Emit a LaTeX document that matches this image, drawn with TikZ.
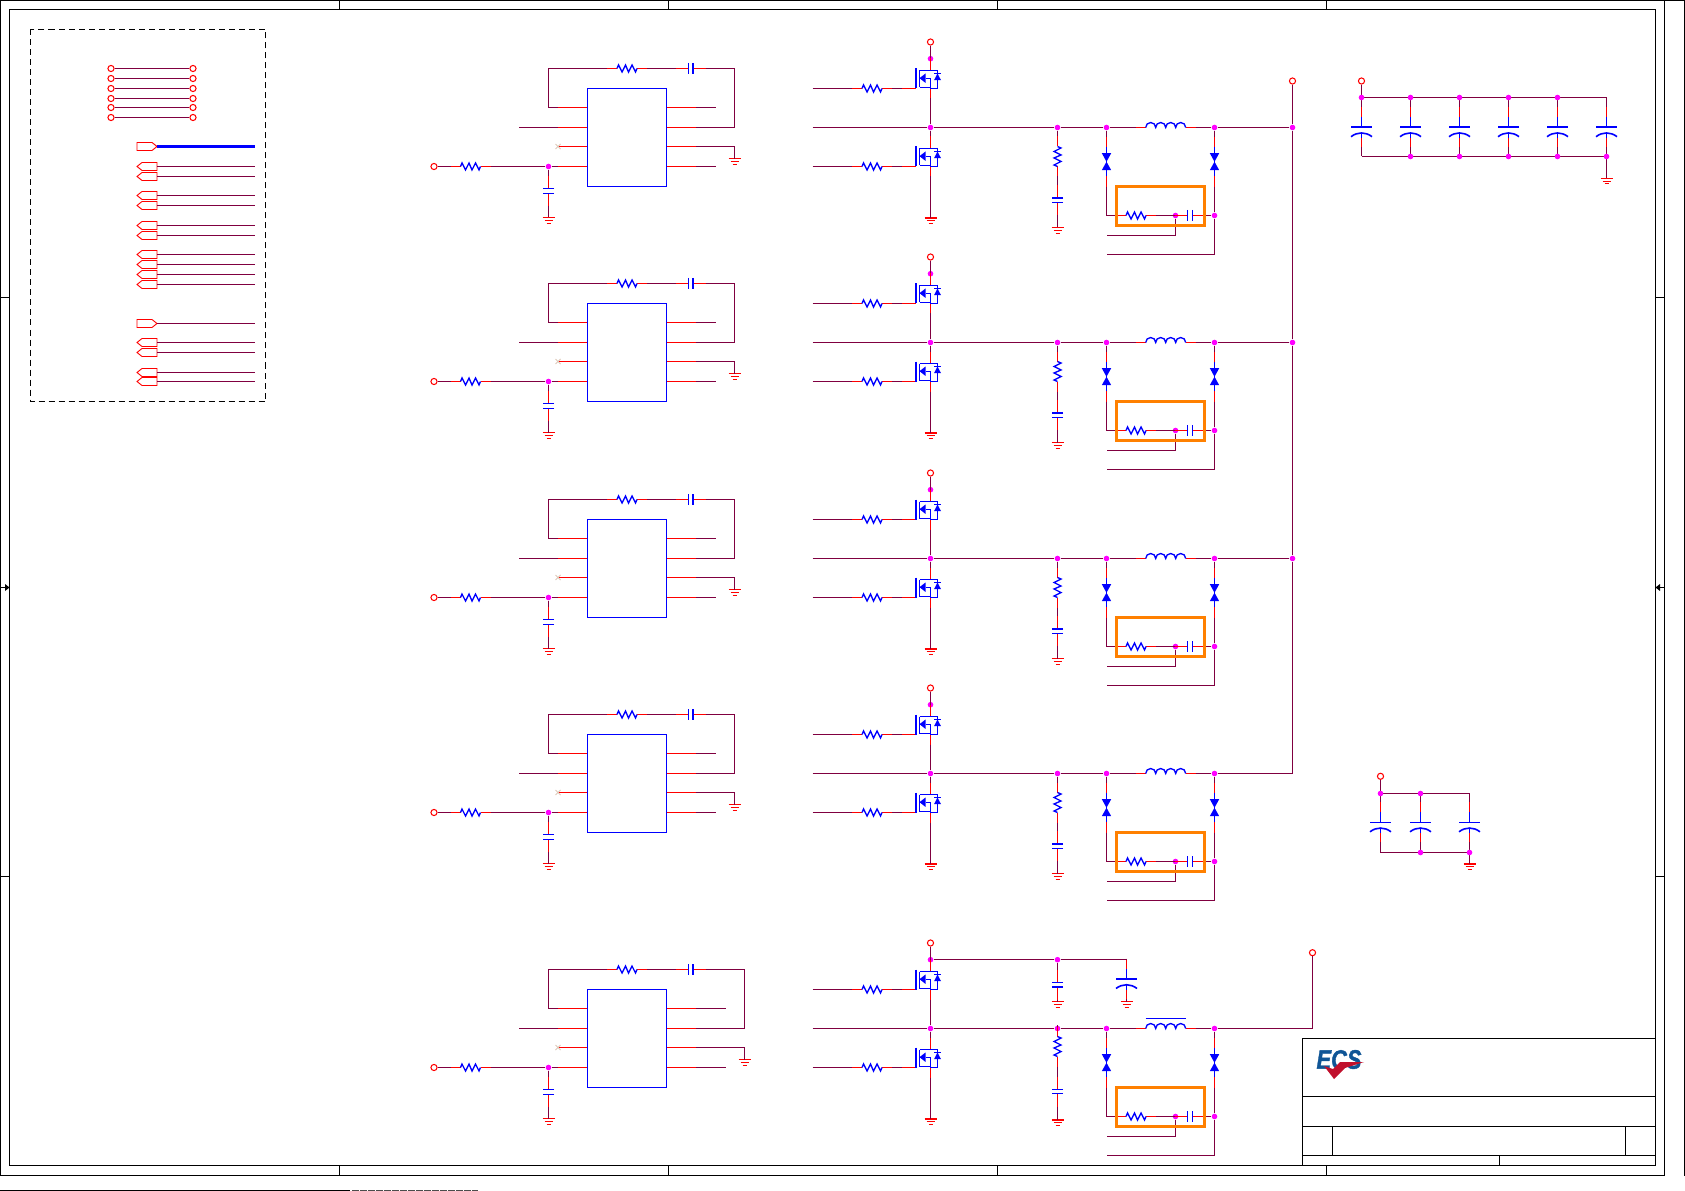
\documentclass[tikz,border=0pt]{standalone}
\usepackage{fontspec}
\setmainfont{Liberation Sans}[BoldItalicFeatures={FakeBold=1.5}]
\usetikzlibrary{positioning}

\definecolor{netcol}{HTML}{800040}
\definecolor{pincol}{HTML}{FF0000}
\definecolor{partcol}{HTML}{0000FF}
\definecolor{juncol}{HTML}{FF00FF}
\definecolor{orangebox}{HTML}{FF8000}
\definecolor{logoblue}{HTML}{0F5596}
\definecolor{logored}{HTML}{C0102C}
\definecolor{nccol}{HTML}{DDC8B8}

\tikzset{
    frameline/.style={draw=black, line width=1pt},
    netline/.style={draw=netcol, line width=0.8pt},
    pinline/.style={draw=pincol, line width=0.8pt},
    partline/.style={draw=partcol, line width=1pt},
    term/.style={circle, draw=pincol, fill=white, line width=0.8pt, minimum size=4.6pt, inner sep=0pt},
    junc/.style={circle, fill=juncol, minimum size=4.2pt, inner sep=0pt},
    chip/.style={rectangle, draw=partcol, line width=1pt, minimum width=59.2pt, minimum height=73.5pt, inner sep=0pt},
    res/.pic={
        \coordinate (-a) at (-20,0);
        \coordinate (-b) at (20,0);
        \draw[pinline] (-a) -- (-10,0) (10,0) -- (-b);
        \draw[partline] (-10,0) -- (-8.5,-3.5) -- (-5,3.5) -- (-1.5,-3.5) -- (1.5,3.5) -- (5,-3.5) -- (8.5,3.5) -- (10,0);
    },
    capa/.pic={
        \coordinate (-a) at (-15,0);
        \coordinate (-b) at (15,0);
        \draw[pinline] (-a) -- (-2.2,0) (2.2,0) -- (-b);
        \draw[partline] (-2.2,-5.5) -- (-2.2,5.5) (2.2,-5.5) -- (2.2,5.5);
    },
    ecap/.pic={
        \coordinate (-a) at (0,-24);
        \coordinate (-b) at (0,16.5);
        \draw[pinline] (-a) -- (0,-13.5) (0,7) -- (-b);
        \draw[partline, line width=1.2pt] (0,-13.5) -- (0,-3.5) (-10.5,-3.5) -- (10.5,-3.5);
        \draw[partline, line width=1.2pt] (-10.5,6) .. controls (-4,1) and (4,1) .. (10.5,6);
        \draw[partline, line width=1.2pt] (0,2) -- (0,7);
    },
    choke/.pic={
        \coordinate (-a) at (-30,0);
        \coordinate (-b) at (30,0);
        \draw[pinline] (-a) -- (-20,0) (20,0) -- (-b);
        \draw[partline] (-20,0) arc (180:360:5 and 5) arc (180:360:5 and 5) arc (180:360:5 and 5) arc (180:360:5 and 5);
    },
    tvs/.pic={
        \coordinate (-a) at (0,-25);
        \coordinate (-b) at (0,25);
        \draw[pinline] (-a) -- (0,-14.5) (0,14.5) -- (-b);
        \draw[partline] (0,-14.5) -- (0,14.5);
        \fill[partcol] (-4.7,-8.5) -- (4.7,-8.5) -- (0,0) -- cycle;
        \fill[partcol] (-4.7,8.5) -- (4.7,8.5) -- (0,0) -- cycle;
    },
    gnd/.pic={
        \coordinate (-a) at (0,0);
        \draw[draw=pincol, line width=0.8pt] (-6,0) -- (6,0) (-4,2.8) -- (4,2.8) (-2,5.6) -- (2,5.6);
    },
    fet/.pic={
        \coordinate (-g) at (-29,0);
        \coordinate (-d) at (0,-30);
        \coordinate (-s) at (0,10);
        \draw[pinline] (-g) -- (-14.6,0) (-d) -- (0,-18) (0,0) -- (-s);
        \draw[partline] (-14.6,-20) -- (-14.6,0) (-11,-18) -- (-11,-1);
        \draw[partline] (-11,-18) -- (7,-18) -- (7,0) -- (0,0) -- (0,-1);
        \draw[partline] (-11,-1) -- (0,-1) -- (0,-10.3) -- (-5,-10.3);
        \fill[partcol] (-11,-10.3) -- (-5,-15) -- (-5,-5.6) -- cycle;
        \fill[partcol] (7,-15) -- (3.5,-8.3) -- (10.5,-8.3) -- cycle;
        \draw[partline] (3.5,-15) -- (10.5,-15);
    },
    portl/.pic={
        \coordinate (-a) at (0,0);
        \draw[draw=pincol, line width=0.7pt] (0,-4) -- (-15,-4) -- (-20,0) -- (-15,4) -- (0,4) -- cycle;
    },
    portr/.pic={
        \coordinate (-a) at (0,0);
        \draw[draw=pincol, line width=0.7pt] (0,0) -- (-5,-4) -- (-20,-4) -- (-20,4) -- (-5,4) -- cycle;
    },
}

% controller block: name, y offset, x of feedback rail, x of open pin ends
\newcommand{\driver}[4]{
    \begin{scope}[shift={(0,#2)}]
    \node[chip] (#1u) at (626.8,137.3) {};
    \coordinate (#1p1) at (558,107.5);
    \coordinate (#1p2) at (558,127.5);
    \coordinate (#1p3) at (558,146.5);
    \coordinate (#1p4) at (558,166.5);
    \coordinate (#1q1) at (696,107.5);
    \coordinate (#1q2) at (696,127.5);
    \coordinate (#1q3) at (696,146.5);
    \coordinate (#1q4) at (696,166.5);
    \coordinate (#1fl) at (548.5,68.5);
    \coordinate (#1fr) at (#3,68.5);
    \coordinate (#1open) at (519,127.5);
    \coordinate (#1e1) at (#4,107.5);
    \coordinate (#1e4) at (#4,166.5);
    \pic (#1rf) at (627,68.5) {res};
    \pic (#1cf) at (690.7,68.5) {capa};
    \pic (#1g2) at (#3,158.7) {gnd};
    \pic (#1ri) at (470.5,166.5) {res};
    \pic[rotate=-90] (#1ci) at (548.5,191) {capa};
    \pic (#1g1) at (548.5,217.5) {gnd};
    \node[term] (#1in) at (434,166.5) {};
    \node[junc] (#1j) at (548.5,166.5) {};
    \draw[netline] (#1p1) -| (#1fl) -- (#1rf-a);
    \draw[netline] (#1rf-b) -- (#1cf-a);
    \draw[netline] (#1cf-b) -- (#1fr) |- (#1q2);
    \draw[netline] (#1open) -- (#1p2);
    \draw[netline] (#1q1) -- (#1e1);
    \draw[netline] (#1q4) -- (#1e4);
    \draw[netline] (#1q3) -| (#1g2-a);
    \draw[netline] (#1in) -- (#1ri-a);
    \draw[netline] (#1ri-b) -- (#1j);
    \draw[netline] (#1j) -- (#1p4);
    \draw[netline] (#1j) -- (#1ci-a);
    \draw[netline] (#1ci-b) -- (#1g1-a);
    \foreach \k in {1,2,3,4} {
        \draw[pinline] (#1p\k) -- (#1p\k -| #1u.west);
        \draw[pinline] (#1q\k) -- (#1q\k -| #1u.east);
    }
    \draw[nccol, line width=0.6pt] (555.5,144) -- (560.5,149) (555.5,149) -- (560.5,144);
    \end{scope}
}

% power stage: name, y offset
\newcommand{\fets}[2]{
    \begin{scope}[shift={(0,#2)}]
    \node[term] (#1vin) at (930.5,42) {};
    \node[junc] (#1jt) at (930.5,58.7) {};
    \node[junc] (#1jm) at (930.5,127.5) {};
    \coordinate (#1gh) at (812.5,88.5);
    \coordinate (#1gl) at (812.5,166.5);
    \coordinate (#1sw) at (812.5,127.5);
    \pic (#1qh) at (930.5,88.5) {fet};
    \pic (#1ql) at (930.5,166.5) {fet};
    \pic (#1rh) at (872,88.5) {res};
    \pic (#1rl) at (872,166.5) {res};
    \pic (#1g3) at (930.5,218) {gnd};
    \draw[netline] (#1vin) -- (#1jt);
    \draw[netline] (#1jt) -- (#1qh-d);
    \draw[netline] (#1qh-s) -- (#1jm);
    \draw[netline] (#1jm) -- (#1ql-d);
    \draw[netline] (#1ql-s) -- (#1g3-a);
    \draw[netline] (#1gh) -- (#1rh-a);
    \draw[netline] (#1rh-b) -- (#1qh-g);
    \draw[netline] (#1gl) -- (#1rl-a);
    \draw[netline] (#1rl-b) -- (#1ql-g);
    \draw[netline] (#1sw) -- (#1jm);
    \end{scope}
}

% output filter: name, y offset, y of snubber R, C, ground
\newcommand{\filter}[5]{
    \begin{scope}[shift={(0,#2)}]
    \node[junc] (#1js) at (1057.5,127.5) {};
    \node[junc] (#1jd) at (1106.5,127.5) {};
    \node[junc] (#1jo) at (1214.5,127.5) {};
    \node[junc] (#1jc) at (1175.5,215.5) {};
    \node[junc] (#1jr) at (1214.5,215.5) {};
    \coordinate (#1sl) at (1106.5,215.5);
    \coordinate (#1s1) at (1106.5,235.5);
    \coordinate (#1s2) at (1106.5,254.5);
    \coordinate (#1s3) at (1214.5,254.5);
    \coordinate (#1s4) at (1175.5,235.5);
    \pic (#1l) at (1165.7,127.5) {choke};
    \pic[rotate=-90] (#1rs) at (1057.5,#3) {res};
    \pic[rotate=-90] (#1cs) at (1057.5,#4) {capa};
    \pic (#1g4) at (1057.5,#5) {gnd};
    \pic (#1d1) at (1106.5,161.7) {tvs};
    \pic (#1d2) at (1214.5,161.7) {tvs};
    \pic (#1rn) at (1136,215.5) {res};
    \pic (#1cn) at (1190,215.5) {capa};
    \draw[netline] (#1jm) -- (#1js);
    \draw[netline] (#1js) -- (#1jd);
    \draw[netline] (#1jd) -- (#1l-a);
    \draw[netline] (#1l-b) -- (#1jo);
    \draw[netline] (#1js) -- (#1rs-a);
    \draw[netline] (#1rs-b) -- (#1cs-a);
    \draw[netline] (#1cs-b) -- (#1g4-a);
    \draw[netline] (#1jd) -- (#1d1-a);
    \draw[netline] (#1d1-b) -- (#1sl) -- (#1rn-a);
    \draw[netline] (#1rn-b) -- (#1jc);
    \draw[netline] (#1jc) -- (#1cn-a);
    \draw[netline] (#1cn-b) -- (#1jr);
    \draw[netline] (#1jo) -- (#1d2-a);
    \draw[netline] (#1d2-b) -- (#1jr);
    \draw[netline] (#1jr) -- (#1s3) -- (#1s2);
    \draw[netline] (#1jc) -- (#1s4) -- (#1s1);
    \node[draw=orangebox, line width=2.2pt, minimum width=65.5pt, minimum height=29.5pt, inner sep=0pt] (#1box) at (1160.5,205.8) {};
    \end{scope}
}

\begin{document}
\begin{tikzpicture}[x=0.75pt, y=-0.75pt]
    \useasboundingbox (0,0) rectangle (1685,1191);

    % sheet frame
    \draw[frameline] (0.5,1175.5) -- (0.5,0.5) -- (1684.5,0.5) -- (1684.5,1175.5);
    \draw[frameline] (0.5,1175.5) -- (1664.5,1175.5) -- (1664.5,0.5);
    \draw[frameline] (9.5,9.5) rectangle (1655.5,1165.5);
    \draw[black, line width=1pt] (0,1190.5) -- (350,1190.5);
    \draw[black!70, line width=1pt, dash pattern=on 5pt off 1pt] (352,1190.5) -- (478,1190.5);
    \foreach \x in {339.5,668.5,997.5,1326.5} {
        \draw[frameline] (\x,0.5) -- (\x,9.5);
        \draw[frameline] (\x,1165.5) -- (\x,1175.5);
    }
    \foreach \y in {297.5,876.5} {
        \draw[frameline] (0.5,\y) -- (9.5,\y);
        \draw[frameline] (1655.5,\y) -- (1664.5,\y);
    }
    \draw[frameline] (0.5,587.5) -- (9.5,587.5);
    \fill[black] (9.5,587.5) -- (5,584) -- (5,591) -- cycle;
    \draw[frameline] (1655.5,587.5) -- (1664.5,587.5);
    \fill[black] (1655.5,587.5) -- (1660,584) -- (1660,591) -- cycle;

    % title block
    \draw[frameline] (1302.5,1038.5) rectangle (1655.5,1165.5);
    \draw[frameline] (1302.5,1096.5) -- (1655.5,1096.5);
    \draw[frameline] (1302.5,1126.5) -- (1655.5,1126.5);
    \draw[frameline] (1302.5,1155.5) -- (1655.5,1155.5);
    \draw[frameline] (1332.5,1126.5) -- (1332.5,1155.5);
    \draw[frameline] (1625.5,1126.5) -- (1625.5,1155.5);
    \draw[frameline] (1499.5,1155.5) -- (1499.5,1165.5);
    \node[font=\bfseries\itshape, text=logoblue, inner sep=0pt, xscale=0.82, scale=2] (logo) at (1339,1059.5) {ECS};
    \fill[logored] (1324,1066) -- (1334,1079) -- (1345,1068) -- (1364,1062) -- (1340,1062) -- (1333,1069) -- cycle;

    % net list box
    \draw[black, line width=0.75pt, dash pattern=on 4.5pt off 3pt] (30.5,29.5) rectangle (265.5,401.5);
    \foreach \y [count=\i] in {68.5,78.5,88.5,98.5,107.5,117.5} {
        \node[term] (tpa\i) at (111,\y) {};
        \node[term] (tpb\i) at (193,\y) {};
        \draw[netline] (tpa\i) -- (tpb\i);
    }
    \pic (pwr) at (157,146.5) {portr};
    \coordinate (pwre) at (255,146.5);
    \draw[draw=partcol, line width=2.2pt] (pwr-a) -- (pwre);
    \pic (sen) at (157,323.5) {portr};
    \coordinate (sene) at (255,323.5);
    \draw[netline] (sen-a) -- (sene);
    \foreach \y [count=\i] in {166.5,176.5,195.5,205.5,225.5,235.5,254.5,264.5,274.5,284.5,342.5,352.5,372.5,381.5} {
        \pic (prt\i) at (157,\y) {portl};
        \coordinate (prte\i) at (255,\y);
        \draw[netline] (prt\i-a) -- (prte\i);
    }

    % phases
    \foreach \n/\off in {a/0,b/215,c/431,d/646} {
        \driver{\n}{\off}{734.5}{715.5}
        \fets{\n}{\off}
        \filter{\n}{\off}{156.5}{200.3}{227.5}
    }
    \driver{e}{901}{744.5}{725.5}
    \fets{e}{901}
    \filter{e}{901}{145.5}{190.5}{219}

    % output rail
    \node[term] (vout) at (1292.5,81) {};
    \node[junc] (ja) at (1292.5,127.5) {};
    \node[junc] (jb) at (1292.5,342.5) {};
    \node[junc] (jc) at (1292.5,558.5) {};
    \coordinate (jd) at (1292.5,773.5);
    \draw[netline] (vout) -- (ja);
    \draw[netline] (ja) -- (jb);
    \draw[netline] (jb) -- (jc);
    \draw[netline] (jc) -- (jd);
    \draw[netline] (ajo) -- (ja);
    \draw[netline] (bjo) -- (jb);
    \draw[netline] (cjo) -- (jc);
    \draw[netline] (djo) -- (jd);

    % last phase extras
    \node[term] (vfb) at (1312.5,952.7) {};
    \coordinate (vfbc) at (1312.5,1028.5);
    \draw[netline] (ejo) -- (vfbc) -- (vfb);
    \draw[draw=partcol, line width=1pt] (1145.5,1018.5) -- (1185.7,1018.5);
    \node[junc] (ejk) at (1057.5,959.7) {};
    \coordinate (ejl) at (1126.5,959.7);
    \pic[rotate=-90] (ecd) at (1057.5,984.8) {capa};
    \pic (egd) at (1057.5,1001.7) {gnd};
    \pic (ece) at (1126.5,982.5) {ecap};
    \pic (ege) at (1126.5,1001.7) {gnd};
    \draw[netline] (ejt) -- (ejk);
    \draw[netline] (ejk) -- (ejl) -- (ece-a);
    \draw[netline] (ejk) -- (ecd-a);
    \draw[netline] (ecd-b) -- (egd-a);
    \draw[netline] (ece-b) -- (ege-a);

    % bulk capacitors, top right
    \node[term] (bvt) at (1361.5,81) {};
    \foreach \i/\x in {1/1361.5,2/1410.5,3/1459.5,4/1508.5,5/1557.5,6/1606.5} {
        \pic (bc\i) at (\x,130.7) {ecap};
        \coordinate (bt\i) at (\x,97.5);
        \coordinate (bb\i) at (\x,156.5);
        \draw[netline] (bt\i) -- (bc\i-a);
        \draw[netline] (bc\i-b) -- (bb\i);
    }
    \draw[netline] (bvt) -- (bt1);
    \draw[netline] (bt1) -- (bt6);
    \draw[netline] (bb1) -- (bb6);
    \pic (bg) at (1606.5,178.3) {gnd};
    \draw[netline] (bb6) -- (bg-a);
    \foreach \i in {1,2,3,4,5} {\node[junc] at (bt\i) {};}
    \foreach \i in {2,3,4,5,6} {\node[junc] at (bb\i) {};}

    % bulk capacitors, lower right
    \node[term] (cvt) at (1380.5,776.3) {};
    \foreach \i/\x in {1/1380.5,2/1420.5,3/1469.5} {
        \pic (cc\i) at (\x,825.8) {ecap};
        \coordinate (ct\i) at (\x,793.5);
        \coordinate (cb\i) at (\x,852.5);
        \draw[netline] (ct\i) -- (cc\i-a);
        \draw[netline] (cc\i-b) -- (cb\i);
    }
    \draw[netline] (cvt) -- (ct1);
    \draw[netline] (ct1) -- (ct3);
    \draw[netline] (cb1) -- (cb3);
    \pic (cg) at (1469.5,864) {gnd};
    \draw[netline] (cb3) -- (cg-a);
    \node[junc] at (ct1) {};
    \node[junc] at (ct2) {};
    \node[junc] at (cb2) {};
    \node[junc] at (cb3) {};
\end{tikzpicture}
\end{document}
